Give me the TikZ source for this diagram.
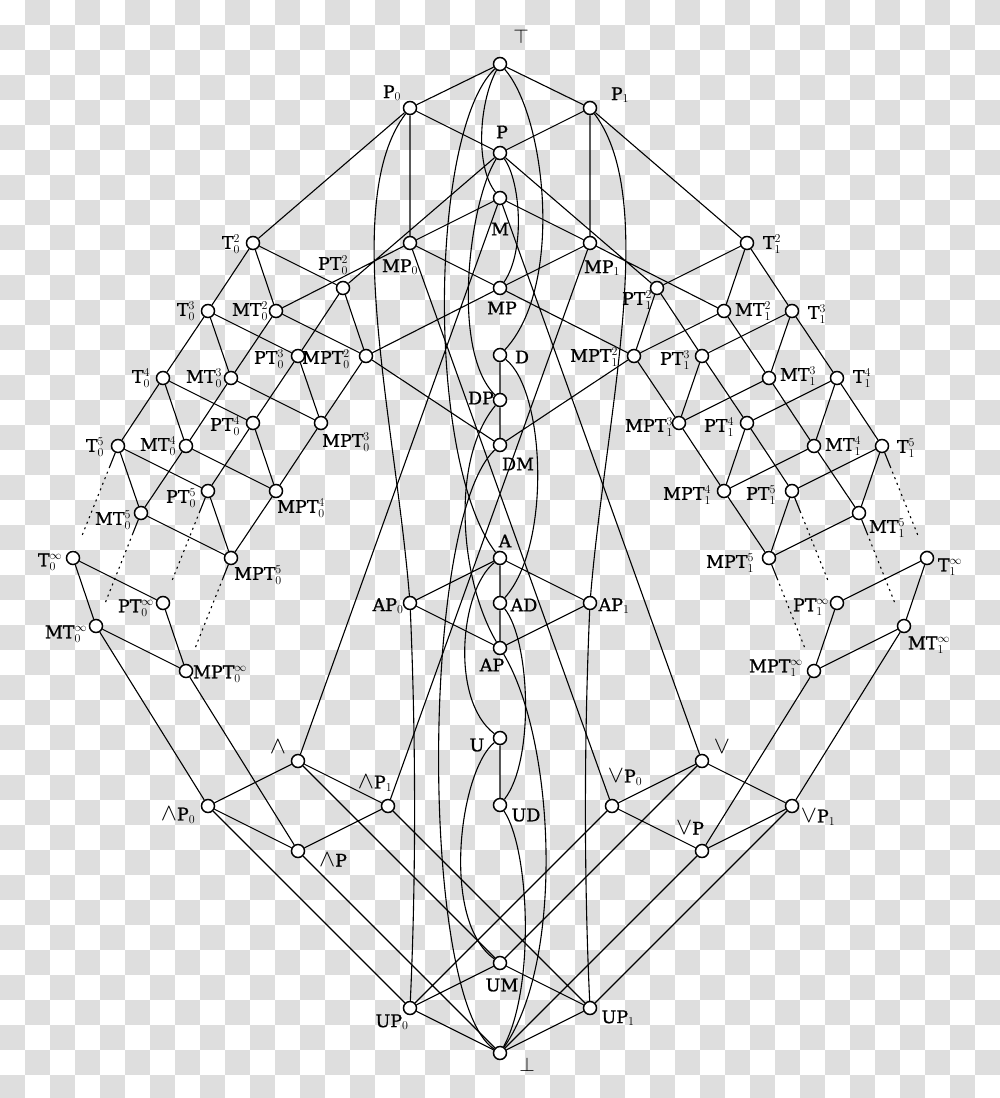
\documentclass[tikz,border=0pt]{standalone}
\usepackage{fontspec}
\setmainfont{DejaVu Serif}[FakeBold=1]
\usepackage{graphicx}
\usetikzlibrary{calc}
\pgfdeclarelayer{bg}
\pgfdeclarelayer{edges}
\pgfsetlayers{bg,edges,main}
\definecolor{chk}{gray}{0.87}
\newcommand\Wg{\scalebox{1.4}{$\wedge$}}
\newcommand\Vg{\scalebox{1.4}{$\vee$}}
\begin{document}
\begin{tikzpicture}[x=1pt,y=-1pt,
  pt/.style={circle,draw,fill=white,line width=1.5pt,minimum size=13pt,inner sep=0pt},
  lab/.style={font=\fontsize{17.5}{19}\selectfont,inner sep=0pt},
  edge/.style={line width=1.1pt},
  dots/.style={line width=1.1pt,dash pattern=on 2pt off 4pt}]
\useasboundingbox (0,0) rectangle (1000,1098);
\begin{pgfonlayer}{bg}
\fill[white] (0,0) rectangle (1000,1098);
\begin{scope}
\clip (0,0) rectangle (1000,1098);
\foreach \i in {0,...,39}{
  \pgfmathtruncatemacro\off{mod(\i+1,2)}
  \foreach \j in {0,...,21}{
    \fill[chk] (\i*25,{(2*\j+\off)*25}) rectangle ++(25,25);
  }
}
\end{scope}
\end{pgfonlayer}

% ---- nodes: centre column
\node[pt] (top) at (500,64) {};
\node[pt] (P) at (500,153) {};
\node[pt] (M) at (500,198) {};
\node[pt] (MP) at (500,288) {};
\node[pt] (D) at (500,355) {};
\node[pt] (DP) at (500,400) {};
\node[pt] (DM) at (500,445) {};
\node[pt] (A) at (500,558) {};
\node[pt] (AD) at (500,603) {};
\node[pt] (AP) at (500,648) {};
\node[pt] (U) at (500,738) {};
\node[pt] (UD) at (500,805) {};
\node[pt] (UM) at (500,963) {};
\node[pt] (bot) at (500,1053) {};
\node[pt] (P0) at (410,108) {};
\node[pt] (P1) at (590,108) {};
\node[pt] (MP0) at (410,243) {};
\node[pt] (MP1) at (590,243) {};
\node[pt] (AP0) at (410,603) {};
\node[pt] (AP1) at (590,603) {};
\node[pt] (UP0) at (410,1008) {};
\node[pt] (UP1) at (590,1008) {};
\node[pt] (L) at (298,761) {};
\node[pt] (LP0) at (208,806) {};
\node[pt] (LP1) at (388,806) {};
\node[pt] (LP) at (298,851) {};
\node[pt] (V) at (702,761) {};
\node[pt] (VP0) at (612,806) {};
\node[pt] (VP1) at (792,806) {};
\node[pt] (VP) at (702,851) {};
% ---- left T family
\node[pt] (T02) at (253,243) {};  \node[pt] (MT02) at (276,311) {};
\node[pt] (PT02) at (343,288) {}; \node[pt] (MPT02) at (366,356) {};
\node[pt] (T03) at (208,311) {};  \node[pt] (MT03) at (231,378) {};
\node[pt] (PT03) at (298,356) {}; \node[pt] (MPT03) at (321,423) {};
\node[pt] (T04) at (163,378) {};  \node[pt] (MT04) at (186,446) {};
\node[pt] (PT04) at (253,423) {}; \node[pt] (MPT04) at (276,491) {};
\node[pt] (T05) at (118,446) {};  \node[pt] (MT05) at (141,513) {};
\node[pt] (PT05) at (208,491) {}; \node[pt] (MPT05) at (231,558) {};
\node[pt] (T0i) at (73,558) {};   \node[pt] (MT0i) at (96,626) {};
\node[pt] (PT0i) at (163,603) {}; \node[pt] (MPT0i) at (186,671) {};
% ---- right T family
\node[pt] (T12) at (747,243) {};  \node[pt] (MT12) at (724,311) {};
\node[pt] (PT12) at (657,288) {}; \node[pt] (MPT12) at (634,356) {};
\node[pt] (T13) at (792,311) {};  \node[pt] (MT13) at (769,378) {};
\node[pt] (PT13) at (702,356) {}; \node[pt] (MPT13) at (679,423) {};
\node[pt] (T14) at (837,378) {};  \node[pt] (MT14) at (814,446) {};
\node[pt] (PT14) at (747,423) {}; \node[pt] (MPT14) at (724,491) {};
\node[pt] (T15) at (882,446) {};  \node[pt] (MT15) at (859,513) {};
\node[pt] (PT15) at (792,491) {}; \node[pt] (MPT15) at (769,558) {};
\node[pt] (T1i) at (927,558) {};  \node[pt] (MT1i) at (904,626) {};
\node[pt] (PT1i) at (837,603) {}; \node[pt] (MPT1i) at (814,671) {};

% ---- edges
\begin{pgfonlayer}{edges}
\draw[edge] (top)--(P0) (top)--(P1) (P0)--(P) (P1)--(P)
  (P0)--(T02) (P1)--(T12) (P0)--(MP0) (P1)--(MP1)
  (M)--(MP0) (M)--(MP1) (MP0)--(MP) (MP1)--(MP)
  (P)--(PT02) (P)--(PT12) (MP0)--(MT02) (MP1)--(MT12)
  (MP)--(MPT02) (MP)--(MPT12) (MP0)--(VP0) (MP1)--(LP1)
  (M)--(L) (M)--(V) (D)--(DP) (DP)--(DM) (MPT02)--(DM) (MPT12)--(DM)
  (A)--(AP0) (A)--(AP1) (A)--(AD) (AD)--(AP) (AP0)--(AP) (AP1)--(AP)
  (U)--(UD) (UM)--(UP0) (UM)--(UP1) (UP0)--(bot) (UP1)--(bot)
  (L)--(LP0) (L)--(LP1) (LP0)--(LP) (LP1)--(LP)
  (V)--(VP0) (V)--(VP1) (VP0)--(VP) (VP1)--(VP)
  (L)--(UM) (V)--(UM) (LP0)--(UP0) (LP1)--(UP1) (VP0)--(UP0) (VP1)--(UP1)
  (LP)--(bot) (VP)--(bot) (LP)--(MPT0i) (VP)--(MPT1i) (LP0)--(MT0i) (VP1)--(MT1i);
\foreach \side in {0,1}{
  \foreach \k/\j in {2/3,3/4,4/5}{
    \draw[edge] (T\side\k)--(T\side\j) (MT\side\k)--(MT\side\j)
      (PT\side\k)--(PT\side\j) (MPT\side\k)--(MPT\side\j);
  }
  \foreach \k in {2,3,4,5,i}{
    \draw[edge] (T\side\k)--(MT\side\k) (T\side\k)--(PT\side\k)
      (MT\side\k)--(MPT\side\k) (PT\side\k)--(MPT\side\k);
  }
  \foreach \x in {T,MT,PT,MPT}{
    \draw[edge] (\x\side5) -- ($(\x\side5)!0.18!(\x\side i)$);
    \draw[dots] ($(\x\side5)!0.18!(\x\side i)$) -- ($(\x\side5)!0.82!(\x\side i)$);
  }
}
% curves
\draw[edge] (top) .. controls (480,100) and (474,165) .. (M);
\draw[edge] (P) .. controls (520,180) and (526,250) .. (MP);
\draw[edge] (top) .. controls (545,115) and (565,285) .. (D);
\draw[edge] (top) .. controls (430,130) and (425,460) .. (A);
\draw[edge] (P) .. controls (470,200) and (450,350) .. (DP);
\draw[edge] (DP) .. controls (450,460) and (460,580) .. (AP);
\draw[edge] (D) .. controls (545,390) and (552,545) .. (AD);
\draw[edge] (DM) .. controls (420,520) and (420,1000) .. (bot);
\draw[edge] (A) .. controls (460,590) and (450,700) .. (U);
\draw[edge] (AD) .. controls (530,640) and (535,760) .. (UD);
\draw[edge] (U) .. controls (460,770) and (440,920) .. (UM);
\draw[edge] (UD) .. controls (530,850) and (535,990) .. (bot);
\draw[edge] (AP) .. controls (555,740) and (565,960) .. (bot);
\draw[edge] (P0) .. controls (340,200) and (395,420) .. (AP0);
\draw[edge] (P1) .. controls (660,200) and (605,420) .. (AP1);
\draw[edge] (AP0) .. controls (416,740) and (416,880) .. (UP0);
\draw[edge] (AP1) .. controls (584,740) and (584,880) .. (UP1);
\end{pgfonlayer}

% ---- labels
\node[lab] (ltop) at (521,37) {\scalebox{1.15}{$\top$}};
\node[lab] (lbot) at (527,1065) {\scalebox{1.15}{$\bot$}};
\node[lab] (lP0) at (392,93) {P$_0$};
\node[lab] (lP1) at (620,95) {P$_1$};
\node[lab] (lP) at (502,132) {P};
\node[lab] (lM) at (500,229) {M};
\node[lab] (lMP0) at (400,267) {MP$_0$};
\node[lab] (lMP1) at (602,268) {MP$_1$};
\node[lab] (lMP) at (502,308) {MP};
\node[lab] (lD) at (522,357) {D};
\node[lab] (lDP) at (481,398) {DP};
\node[lab] (lDM) at (518,464) {DM};
\node[lab] (lA) at (505,541) {A};
\node[lab] (lAD) at (524,605) {AD};
\node[lab] (lAP0) at (388,606) {AP$_0$};
\node[lab] (lAP1) at (614,606) {AP$_1$};
\node[lab] (lAP) at (492,665) {AP};
\node[lab] (lU) at (477,745) {U};
\node[lab] (lUD) at (526,815) {UD};
\node[lab] (lUM) at (502,985) {UM};
\node[lab] (lUP0) at (392,1022) {UP$_0$};
\node[lab] (lUP1) at (618,1018) {UP$_1$};
\node[lab] (lL) at (278,747) {\Wg};
\node[lab] (lLP0) at (178,815) {\Wg P$_0$};
\node[lab] (lLP1) at (375,783) {\Wg P$_1$};
\node[lab] (lLP) at (333,860) {\Wg P};
\node[lab] (lV) at (722,747) {\Vg};
\node[lab] (lVP0) at (625,777) {\Vg P$_0$};
\node[lab] (lVP) at (690,828) {\Vg P};
\node[lab] (lVP1) at (818,817) {\Vg P$_1$};
% left family labels
\node[lab] (lT02) at (231,244) {T$_0^2$};
\node[lab] (lMT02) at (250,311) {MT$_0^2$};
\node[lab] (lPT02) at (333,265) {PT$_0^2$};
\node[lab] (lMPT02) at (326,359) {MPT$_0^2$};
\node[lab] (lT03) at (186,311) {T$_0^3$};
\node[lab] (lMT03) at (204,378) {MT$_0^3$};
\node[lab] (lPT03) at (269,359) {PT$_0^3$};
\node[lab] (lMPT03) at (346,442) {MPT$_0^3$};
\node[lab] (lT04) at (141,378) {T$_0^4$};
\node[lab] (lMT04) at (158,446) {MT$_0^4$};
\node[lab] (lPT04) at (225,426) {PT$_0^4$};
\node[lab] (lMPT04) at (301,508) {MPT$_0^4$};
\node[lab] (lT05) at (95,447) {T$_0^5$};
\node[lab] (lMT05) at (113,520) {MT$_0^5$};
\node[lab] (lPT05) at (181,498) {PT$_0^5$};
\node[lab] (lMPT05) at (258,575) {MPT$_0^5$};
\node[lab] (lT0i) at (50,562) {T$_0^\infty$};
\node[lab] (lMT0i) at (66,634) {MT$_0^\infty$};
\node[lab] (lPT0i) at (136,608) {PT$_0^\infty$};
\node[lab] (lMPT0i) at (220,674) {MPT$_0^\infty$};
% right family labels
\node[lab] (lT12) at (772,244) {T$_1^2$};
\node[lab] (lMT12) at (753,311) {MT$_1^2$};
\node[lab] (lPT12) at (637,300) {PT$_1^2$};
\node[lab] (lMPT12) at (594,357) {MPT$_1^2$};
\node[lab] (lT13) at (817,314) {T$_1^3$};
\node[lab] (lMT13) at (798,376) {MT$_1^3$};
\node[lab] (lPT13) at (675,360) {PT$_1^3$};
\node[lab] (lMPT13) at (649,427) {MPT$_1^3$};
\node[lab] (lT14) at (862,378) {T$_1^4$};
\node[lab] (lMT14) at (843,446) {MT$_1^4$};
\node[lab] (lPT14) at (719,427) {PT$_1^4$};
\node[lab] (lMPT14) at (687,495) {MPT$_1^4$};
\node[lab] (lT15) at (906,448) {T$_1^5$};
\node[lab] (lMT15) at (887,528) {MT$_1^5$};
\node[lab] (lPT15) at (761,495) {PT$_1^5$};
\node[lab] (lMPT15) at (730,563) {MPT$_1^5$};
\node[lab] (lT1i) at (950,567) {T$_1^\infty$};
\node[lab] (lMT1i) at (929,645) {MT$_1^\infty$};
\node[lab] (lPT1i) at (811,607) {PT$_1^\infty$};
\node[lab] (lMPT1i) at (776,668) {MPT$_1^\infty$};
\end{tikzpicture}
\end{document}
